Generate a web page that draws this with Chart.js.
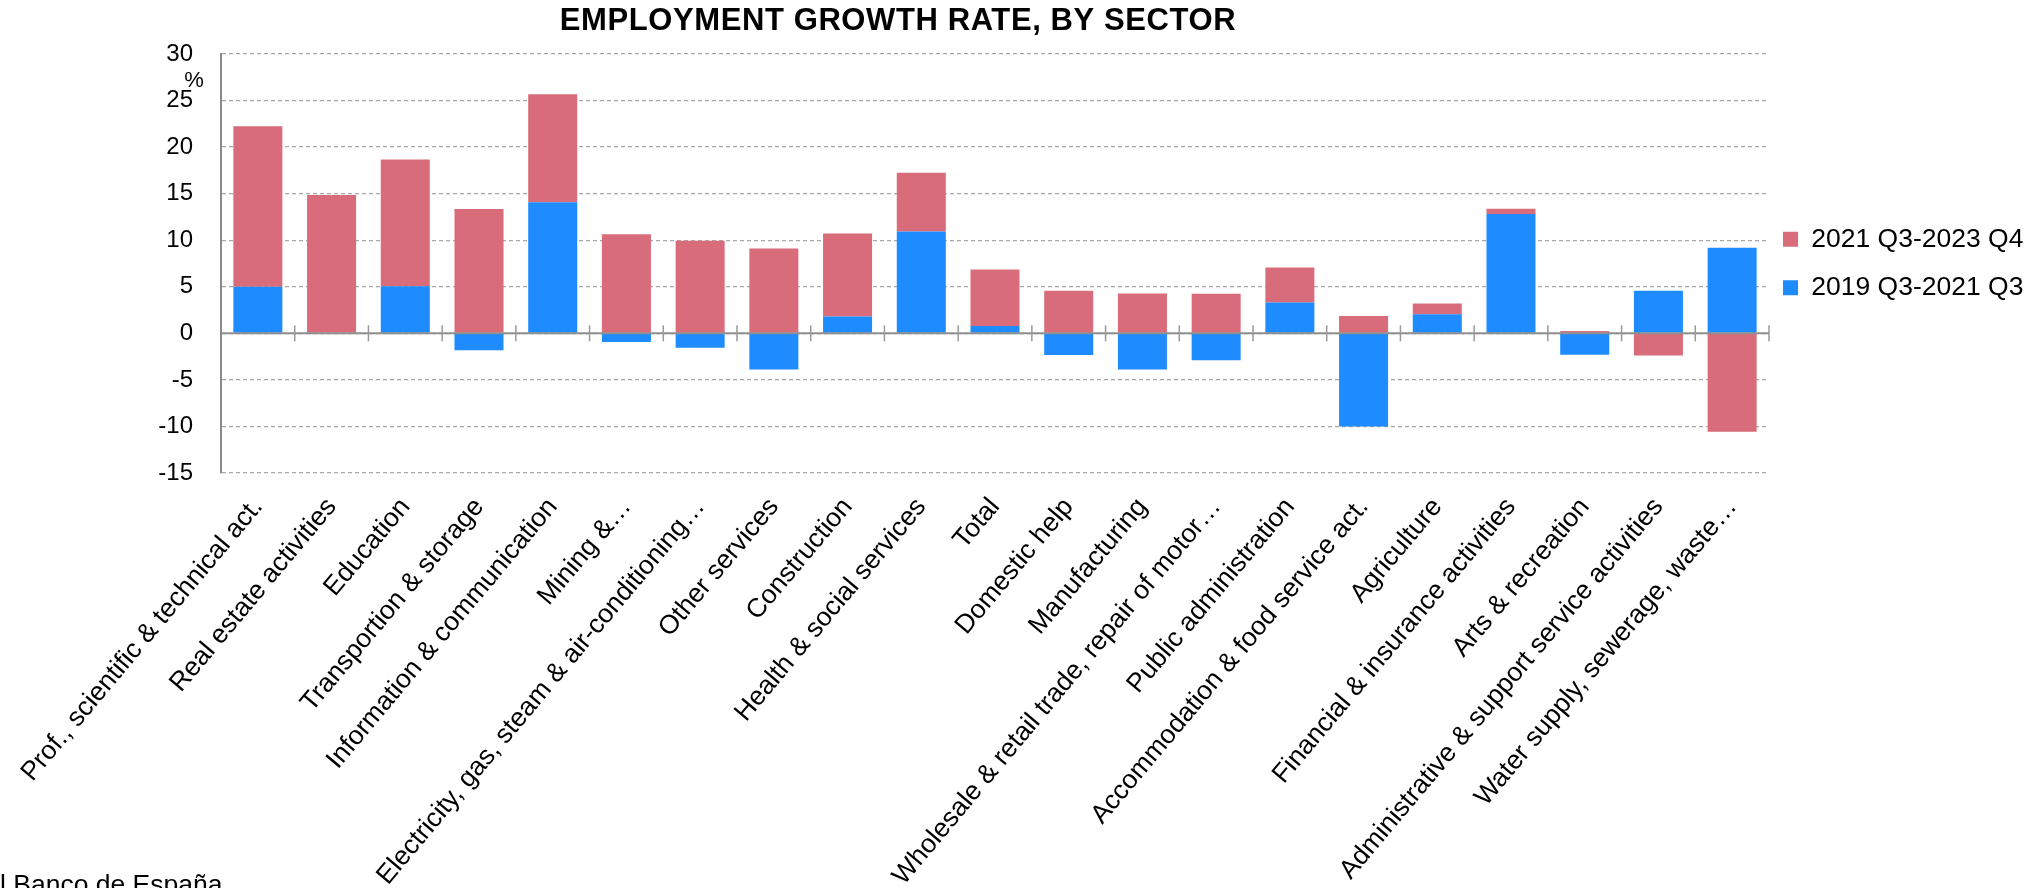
<!DOCTYPE html>
<html>
<head>
<meta charset="utf-8">
<script src="https://cdn.jsdelivr.net/npm/chart.js@4/dist/chart.umd.min.js"></script>
<style>
  html, body { margin: 0; padding: 0; background: #fff; }
  #wrap { width: 2036px; height: 888px; position: relative; }
</style>
</head>
<body>
<div id="wrap"><canvas id="myChart"></canvas></div>
<script>
// sectors, in the order shown
var sectors = [
  'Prof., scientific & technical act.', 'Real estate activities', 'Education',
  'Transportion & storage', 'Information & communication', 'Mining &…',
  'Electricity, gas, steam & air-conditioning…', 'Other services', 'Construction',
  'Health & social services', 'Total', 'Domestic help', 'Manufacturing',
  'Wholesale & retail trade, repair of motor…', 'Public administration',
  'Accommodation & food service act.', 'Agriculture', 'Financial & insurance activities',
  'Arts & recreation', 'Administrative & support service activities', 'Water supply, sewerage, waste…'
];

// 2019 Q3-2021 Q3 (blue, bottom of stack)
var growth2019_2021 = [5.0, 0, 5.07, -1.82, 14.07, -0.93, -1.54, -3.89, 1.82, 10.93, 0.79,
  -2.32, -3.89, -2.89, 3.32, -10.0, 2.04, 12.82, -2.29, 4.57, 9.18];

// 2021 Q3-2023 Q4 (red, stacked on top)
var growth2021_2023 = [17.25, 14.86, 13.61, 13.36, 11.61, 10.64, 9.93, 9.11, 8.89, 6.32, 6.07,
  4.57, 4.29, 4.25, 3.75, 1.86, 1.17, 0.57, 0.25, -2.39, -10.57];

var yTicks = [-15, -10, -5, 0, 5, 10, 15, 20, 25, 30];

var BLUE = '#1e8cff';
var RED = '#d96c7a';
var FONT = "'Liberation Sans', Arial, Helvetica, sans-serif";

Chart.defaults.font.family = FONT;
Chart.defaults.color = '#000';

// fixed legend width so the plot ends where the original does
var legendWidth = {
  id: 'legendWidth',
  beforeInit: function (chart) {
    var fit = chart.legend.fit;
    chart.legend.fit = function () {
      fit.bind(chart.legend)();
      this.width = 267;
    };
  },
  afterLayout: function (chart) {
    // nudge legend a bit closer to the plot
    chart.legend.left -= 8;
    chart.legend.right -= 8;
  }
};

// title, % unit, source, zero line with category ticks
var extras = {
  id: 'extras',
  afterDatasetsDraw: function (chart) {
    var ctx = chart.ctx;
    var x = chart.scales.x, y = chart.scales.y, area = chart.chartArea;
    var y0 = y.getPixelForValue(0);
    ctx.save();
    ctx.strokeStyle = '#8f8f8f';
    ctx.lineWidth = 2;
    ctx.beginPath();
    ctx.moveTo(area.left, y0);
    ctx.lineTo(area.right, y0);
    ctx.stroke();
    var step = x.getPixelForValue(1) - x.getPixelForValue(0);
    ctx.lineWidth = 1.5;
    ctx.strokeStyle = '#999';
    for (var i = 0; i < sectors.length; i++) {
      var bx = x.getPixelForValue(i) + step / 2;
      ctx.beginPath();
      ctx.moveTo(bx, y0 - 8);
      ctx.lineTo(bx, y0 + 8);
      ctx.stroke();
    }
    ctx.restore();
  },
  afterDraw: function (chart) {
    var ctx = chart.ctx;
    var y = chart.scales.y, area = chart.chartArea;
    ctx.save();
    ctx.fillStyle = '#000';
    ctx.textAlign = 'center';
    ctx.textBaseline = 'middle';
    ctx.font = 'bold 31px ' + FONT;
    if ('letterSpacing' in ctx) ctx.letterSpacing = '0.6px';
    ctx.fillText('EMPLOYMENT GROWTH RATE, BY SECTOR', 898, 21);
    if ('letterSpacing' in ctx) ctx.letterSpacing = '0px';
    ctx.font = '22px ' + FONT;
    ctx.fillText('%', area.left - 27, y.getPixelForValue(27.1));
    ctx.textAlign = 'left';
    ctx.textBaseline = 'top';
    ctx.font = '26.5px ' + FONT;
    ctx.fillText('l Banco de España', 0, 872);
    ctx.restore();
  }
};

var ctx = document.getElementById('myChart').getContext('2d');
var myChart = new Chart(ctx, {
  type: 'bar',
  data: {
    labels: sectors,
    datasets: [{
      label: '2019 Q3-2021 Q3',
      data: growth2019_2021,
      backgroundColor: BLUE,
      borderWidth: 0
    }, {
      label: '2021 Q3-2023 Q4',
      data: growth2021_2023,
      backgroundColor: RED,
      borderWidth: 0
    }]
  },
  options: {
    responsive: true,
    maintainAspectRatio: false,
    animation: false,
    categoryPercentage: 1,
    barPercentage: 0.665,
    layout: { padding: { top: 54, left: 0, right: 0, bottom: 0 } },
    plugins: {
      title: { display: false },
      tooltip: { enabled: false },
      legend: {
        position: 'right',
        align: 'center',
        fullSize: false,
        reverse: true,
        labels: {
          boxWidth: 15,
          boxHeight: 15,
          padding: 22,
          color: '#000',
          font: { size: 26.5 }
        }
      }
    },
    scales: {
      x: {
        stacked: true,
        grid: { display: false },
        border: { display: false },
        ticks: {
          autoSkip: false,
          minRotation: 50,
          maxRotation: 50,
          padding: 11,
          color: '#000',
          font: { size: 26.5 }
        },
        afterFit: function (scale) { scale.height = 415; }
      },
      y: {
        stacked: true,
        min: -15,
        max: 30,
        afterBuildTicks: function (scale) {
          scale.ticks = yTicks.map(function (v) { return { value: v }; });
        },
        grid: { color: '#a8a8a8', lineWidth: 1.3, drawTicks: false },
        border: { display: true, color: '#8a8a8a', width: 2, dash: [4, 3] },
        ticks: { padding: 28, color: '#000', font: { size: 24 } },
        afterFit: function (scale) { scale.width = 221; }
      }
    }
  },
  plugins: [legendWidth, extras]
});
</script>
</body>
</html>
